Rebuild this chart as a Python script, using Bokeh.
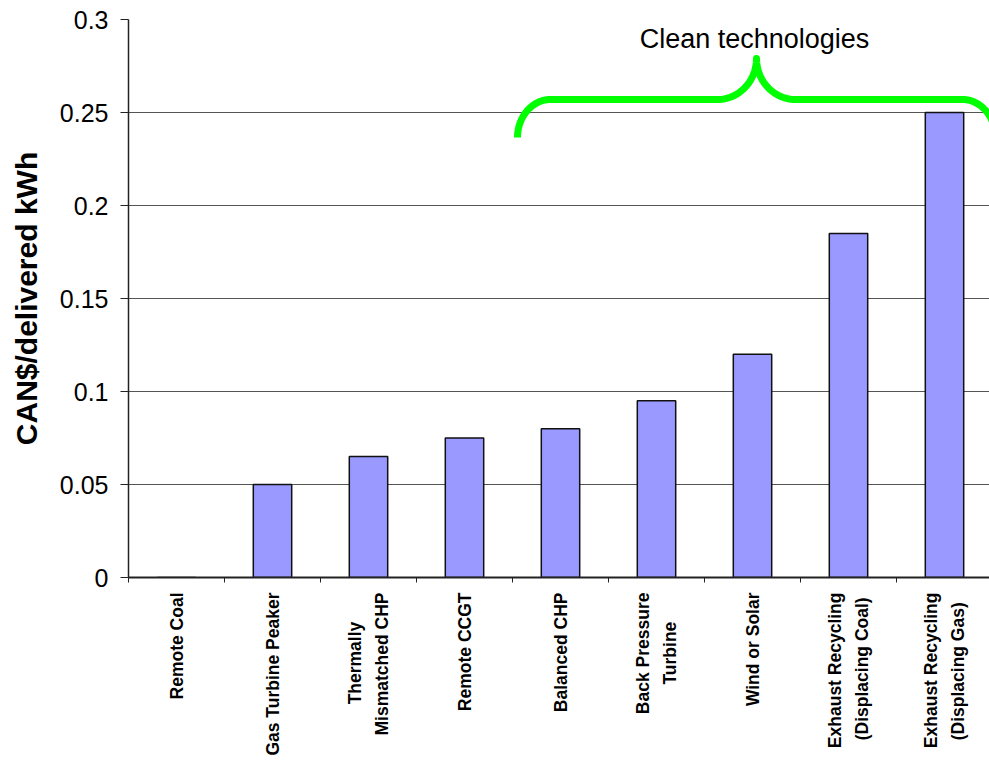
import numpy as np
from bokeh.plotting import figure
from bokeh.models import FixedTicker, Range1d
from bokeh.core.properties import value
from bokeh.embed import file_html
from bokeh.resources import INLINE

categories = ["Remote Coal", "Gas Turbine Peaker", "Thermally\nMismatched CHP", "Remote CCGT",
              "Balanced CHP", "Back Pressure\nTurbine", "Wind or Solar",
              "Exhaust Recycling\n(Displacing Coal)", "Exhaust Recycling\n(Displacing Gas)"]
costs = [0.0, 0.05, 0.065, 0.075, 0.08, 0.095, 0.12, 0.185, 0.25]
y_ticks = [0, 0.05, 0.1, 0.15, 0.2, 0.25, 0.3]
y_tick_labels = ["0", "0.05", "0.1", "0.15", "0.2", "0.25", "0.3"]
annotation_text = "Clean technologies"

FONT = "Liberation Sans"
n = len(categories)
centers = [i + 0.5 for i in range(n)]
bounds = [float(i) for i in range(n + 1)]

# approximate Arial Bold advance widths (em) to centre multi-line labels
_w = {"T": .611, "h": .611, "e": .556, "r": .389, "m": .889, "a": .556, "l": .278, "y": .556,
      "M": .833, "i": .278, "s": .556, "t": .333, "c": .556, "d": .611, " ": .278, "C": .722,
      "H": .722, "P": .667, "B": .722, "k": .556, "u": .611, "b": .611, "n": .611, "E": .667,
      "x": .556, "R": .722, "g": .611, "(": .333, ")": .333, "D": .722, "p": .611, "o": .611,
      "G": .778}
def tw(s):
    return sum(_w.get(ch, .6) for ch in s)

def centred(label):
    lines = label.split("\n")
    if len(lines) == 1:
        return label
    mx = max(tw(l) for l in lines)
    out = []
    for l in lines:
        k = int(round((mx - tw(l)) / 2 / 0.278))
        out.append(l + "\u00a0" * k)
    return "\n".join(out)

display_labels = [centred(c) for c in categories]

W, H = 989, 771
left, right, top, bottom = 128, 0, 19, 194
px_per_cat = 96.0
x_end = (W - left - right) / px_per_cat

p = figure(width=W, height=H, output_backend="svg", toolbar_location=None,
           x_range=Range1d(0, x_end), y_range=Range1d(0, 0.3),
           min_border_left=left, min_border_right=right,
           min_border_top=top, min_border_bottom=bottom)
p.outline_line_color = None
p.background_fill_color = "white"
p.border_fill_color = "white"

# bars
p.vbar(x=centers, top=costs, width=0.4, fill_color="#9999FF",
       line_color="#111111", line_width=1.5)

# brace annotation (pixel-derived shape converted to data units)
frame_h = H - top - bottom
def to_data(px, py):
    return (px - left) / px_per_cat, (H - bottom - py) / frame_h * 0.3

def bez(p0, p1, p2, p3, m=30):
    t = np.linspace(0, 1, m)[:, None]
    pts = ((1 - t) ** 3) * np.array(p0) + 3 * ((1 - t) ** 2) * t * np.array(p1) \
        + 3 * (1 - t) * t ** 2 * np.array(p2) + t ** 3 * np.array(p3)
    return pts

cx = 756.0
half = [bez((517, 137), (517, 116), (532, 99), (550, 99)),
        np.array([[550, 99], [717, 99]]),
        bez((717, 99), (738.5, 99), (756, 80.6), (756, 58))]
left_pts = np.vstack(half)
right_pts = left_pts[::-1].copy()
right_pts[:, 0] = 2 * cx - right_pts[:, 0]
pts = np.vstack([left_pts, right_pts])
bx, by = zip(*[to_data(a, b) for a, b in pts])
p.line(list(bx), list(by), line_color="#00FF00", line_width=7, line_join="round")

tx, ty = to_data(754, 38)
p.text(x=[tx], y=[ty], text=[annotation_text], text_font=value(FONT),
       text_font_size="27px", text_align="center", text_baseline="middle",
       text_color="black")

# axes
p.xgrid.visible = False
p.ygrid.ticker = FixedTicker(ticks=y_ticks)
p.ygrid.grid_line_color = "#555555"
p.ygrid.grid_line_width = 1

xa = p.xaxis[0]
xa.ticker = FixedTicker(ticks=centers, minor_ticks=bounds)
xa.major_label_overrides = {c: lab for c, lab in zip(centers, display_labels)}
xa.major_label_orientation = np.pi / 2
xa.major_tick_line_color = None
xa.major_tick_out = 0
xa.major_tick_in = 0
xa.minor_tick_line_color = "#222222"
xa.minor_tick_out = 5
xa.minor_tick_in = 0
xa.minor_tick_line_width = 1
xa.axis_line_color = "#222222"
xa.axis_line_width = 2
xa.major_label_text_font = FONT
xa.major_label_text_font_style = "bold"
xa.major_label_text_font_size = "17.5px"
xa.major_label_text_color = "black"
xa.major_label_text_line_height = 1.35
xa.major_label_standoff = 10

ya = p.yaxis[0]
ya.ticker = FixedTicker(ticks=y_ticks, minor_ticks=[])
ya.major_label_overrides = {t: s for t, s in zip(y_ticks, y_tick_labels)}
ya.major_tick_out = 8
ya.major_tick_in = 0
ya.major_tick_line_color = "#222222"
ya.axis_line_color = "#222222"
ya.axis_line_width = 1.5
ya.major_label_text_font = FONT
ya.major_label_text_font_size = "25px"
ya.major_label_text_color = "black"
ya.major_label_standoff = 12
ya.axis_label = "CAN$/delivered kWh"
ya.axis_label_text_font = FONT
ya.axis_label_text_font_style = "bold"
ya.axis_label_text_font_size = "30px"
ya.axis_label_text_color = "black"
ya.axis_label_standoff = 14

open("out.html", "w").write(file_html(p, INLINE))
